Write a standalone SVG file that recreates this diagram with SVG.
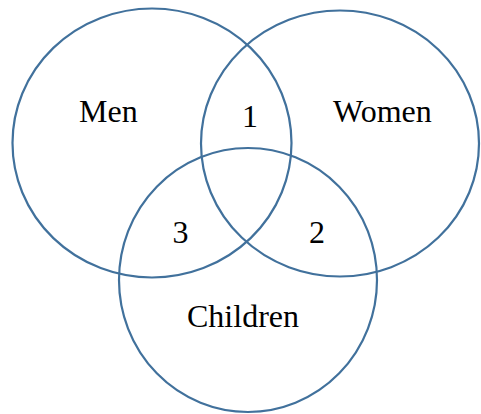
<svg xmlns="http://www.w3.org/2000/svg" width="481" height="414" viewBox="0 0 481 414">
<style>
.c{fill:none;stroke:#41719c;stroke-width:2.2}
.t{font-family:"Liberation Serif","Times New Roman",serif;font-size:32px;fill:#000}
</style>
<rect width="481" height="414" fill="#fff"/>
<g id="men"><ellipse class="c" cx="152" cy="143" rx="139.5" ry="134.5"/><text class="t" x="79" y="122">Men</text></g>
<g id="women"><ellipse class="c" cx="340" cy="143.5" rx="139" ry="133"/><text class="t" x="333" y="122">Women</text></g>
<g id="children"><ellipse class="c" cx="248" cy="280" rx="129" ry="132"/><text class="t" x="187" y="327">Children</text></g>
<g id="labels">
<text class="t" x="250" y="127" text-anchor="middle">1</text>
<text class="t" x="317" y="243" text-anchor="middle">2</text>
<text class="t" x="180.5" y="243" text-anchor="middle">3</text>
</g>
</svg>
